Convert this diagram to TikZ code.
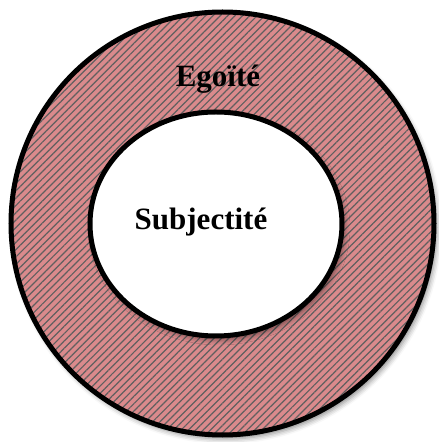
\documentclass[tikz,border=0pt]{standalone}
\usepackage{fontspec}
\setmainfont{Liberation Serif}
\usepackage{tikz}
\usetikzlibrary{shapes.geometric,shadows.blur,patterns.meta,positioning}

\definecolor{egopink}{RGB}{218,138,140}
\definecolor{hatchgray}{RGB}{95,95,95}

\tikzset{
  ring/.style={draw=black, line width=5pt,
    blur shadow={shadow xshift=3pt, shadow yshift=-4pt, shadow blur radius=5pt, shadow opacity=45}},
  bigword/.style={font=\fontsize{31}{36}\selectfont\bfseries, inner sep=0pt, anchor=base}
}

\begin{document}
\begin{tikzpicture}[x=1pt,y=1pt]
\useasboundingbox (0,0) rectangle (439,442);

% Egoite (outer ring)
\node[ring, circle, minimum size=423pt, preaction={fill=egopink},
  pattern={Lines[angle=45,distance=5.2pt,line width=1.2pt]}, pattern color=hatchgray] (egoite) at (222.5,218.5) {};

% Subjectite (inner ellipse)
\node[ring, ellipse, fill=white, minimum width=252pt, minimum height=224pt] (subjectite) at (216,218) {};

% Labels
\node[bigword] (egoitelabel) at (218,355) {Egoïté};
\node[bigword] (subjlabel) at (201,212) {Subjectité};
\end{tikzpicture}
\end{document}
